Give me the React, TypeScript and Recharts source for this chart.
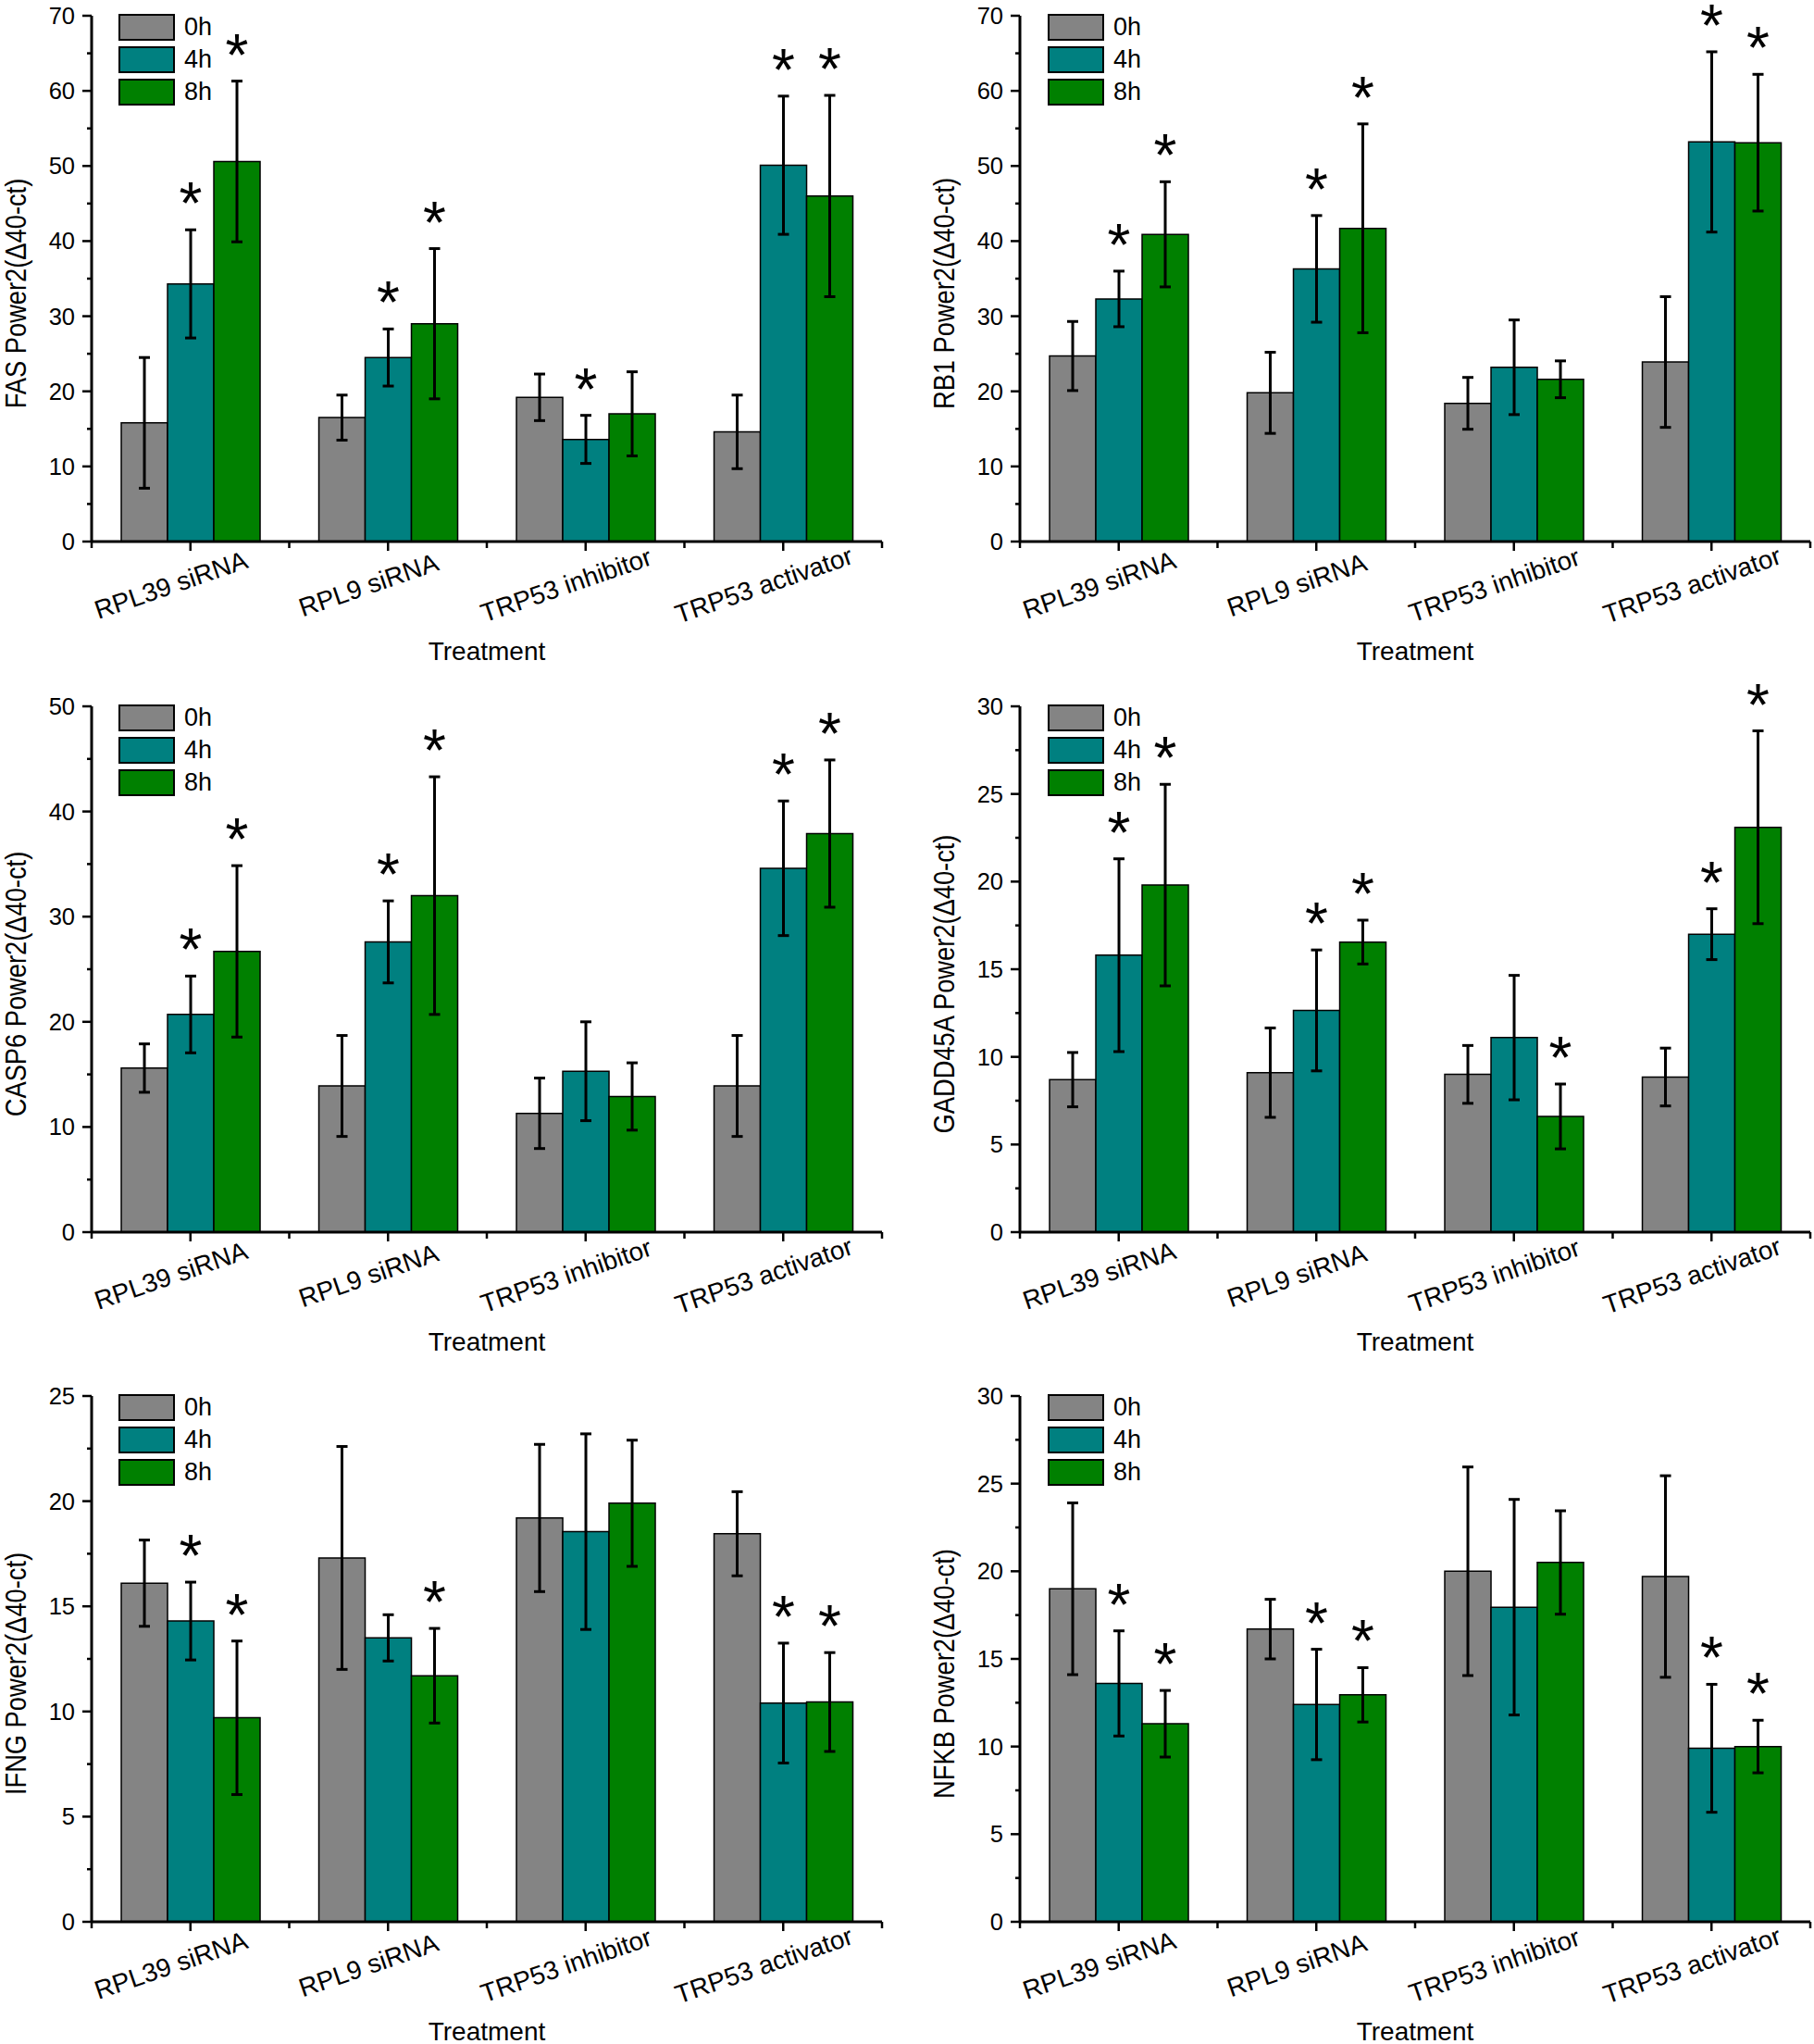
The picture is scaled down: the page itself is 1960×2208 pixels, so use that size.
import React from 'react';
import { BarChart, Bar, XAxis, YAxis, ErrorBar, Legend, LabelList } from 'recharts';

const FONT = '"Liberation Sans", Arial, Helvetica, sans-serif';

const CATEGORIES = ['RPL39 siRNA', 'RPL9 siRNA', 'TRP53 inhibitor', 'TRP53 activator'];
const SERIES = ['0h', '4h', '8h'];
const COLORS = ['#848484', '#008080', '#008000'];

// values per category: [0h, 4h, 8h]
const FAS_MEAN = [[15.8, 34.3, 50.6], [16.5, 24.5, 29.0], [19.2, 13.6, 17.0], [14.6, 50.1, 46.0]];
const FAS_ERR = [[8.7, 7.2, 10.7], [3.0, 3.8, 10.0], [3.1, 3.2, 5.6], [4.9, 9.2, 13.4]];
const FAS_SIG = [[0, 1, 1], [0, 1, 1], [0, 1, 0], [0, 1, 1]];
const FAS_TICKS = [0, 10, 20, 30, 40, 50, 60, 70];

const RB1_MEAN = [[24.7, 32.3, 40.9], [19.8, 36.3, 41.7], [18.4, 23.2, 21.6], [23.9, 53.2, 53.1]];
const RB1_ERR = [[4.6, 3.7, 7.0], [5.4, 7.1, 13.9], [3.45, 6.3, 2.45], [8.7, 12.0, 9.1]];
const RB1_SIG = [[0, 1, 1], [0, 1, 1], [0, 0, 0], [0, 1, 1]];
const RB1_TICKS = [0, 10, 20, 30, 40, 50, 60, 70];

const CASP6_MEAN = [[15.6, 20.7, 26.7], [13.9, 27.6, 32.0], [11.3, 15.3, 12.9], [13.9, 34.6, 37.9]];
const CASP6_ERR = [[2.3, 3.65, 8.15], [4.8, 3.9, 11.3], [3.35, 4.7, 3.2], [4.8, 6.4, 7.0]];
const CASP6_SIG = [[0, 1, 1], [0, 1, 1], [0, 0, 0], [0, 1, 1]];
const CASP6_TICKS = [0, 10, 20, 30, 40, 50];

const GADD45A_MEAN = [[8.7, 15.8, 19.8], [9.1, 12.65, 16.55], [9.0, 11.1, 6.6], [8.85, 17.0, 23.1]];
const GADD45A_ERR = [[1.55, 5.5, 5.75], [2.55, 3.45, 1.25], [1.65, 3.55, 1.85], [1.65, 1.45, 5.5]];
const GADD45A_SIG = [[0, 1, 1], [0, 1, 1], [0, 0, 1], [0, 1, 1]];
const GADD45A_TICKS = [0, 5, 10, 15, 20, 25, 30];

const IFNG_MEAN = [[16.1, 14.3, 9.7], [17.3, 13.5, 11.7], [19.2, 18.55, 19.9], [18.45, 10.4, 10.45]];
const IFNG_ERR = [[2.05, 1.85, 3.65], [5.3, 1.1, 2.25], [3.5, 4.65, 3.0], [2.0, 2.85, 2.35]];
const IFNG_SIG = [[0, 1, 1], [0, 0, 1], [0, 0, 0], [0, 1, 1]];
const IFNG_TICKS = [0, 5, 10, 15, 20, 25];

const NFKB_MEAN = [[19.0, 13.6, 11.3], [16.7, 12.4, 12.95], [20.0, 17.95, 20.5], [19.7, 9.9, 10.0]];
const NFKB_ERR = [[4.9, 3.0, 1.9], [1.7, 3.15, 1.55], [5.95, 6.15, 2.95], [5.75, 3.65, 1.5]];
const NFKB_SIG = [[0, 1, 1], [0, 1, 1], [0, 0, 0], [0, 1, 1]];
const NFKB_TICKS = [0, 5, 10, 15, 20, 25, 30];

const PLOT_W = 854;
const BAND = PLOT_W / CATEGORIES.length;

type PanelDef = {
  label: string;
  mean: number[][];
  err: number[][];
  sig: number[][];
  ticks: number[];
  left: number;
  top: number;
  axisW: number;
  mRight: number;
  legendLeft: number;
};

const PANELS: PanelDef[] = [
  { label: 'FAS Power2(\u039440-ct)', mean: FAS_MEAN, err: FAS_ERR, sig: FAS_SIG, ticks: FAS_TICKS, left: 0, top: 0, axisW: 99, mRight: 27, legendLeft: 128 },
  { label: 'RB1 Power2(\u039440-ct)', mean: RB1_MEAN, err: RB1_ERR, sig: RB1_SIG, ticks: RB1_TICKS, left: 980, top: 0, axisW: 122, mRight: 4, legendLeft: 152 },
  { label: 'CASP6 Power2(\u039440-ct)', mean: CASP6_MEAN, err: CASP6_ERR, sig: CASP6_SIG, ticks: CASP6_TICKS, left: 0, top: 746, axisW: 99, mRight: 27, legendLeft: 128 },
  { label: 'GADD45A Power2(\u039440-ct)', mean: GADD45A_MEAN, err: GADD45A_ERR, sig: GADD45A_SIG, ticks: GADD45A_TICKS, left: 980, top: 746, axisW: 122, mRight: 4, legendLeft: 152 },
  { label: 'IFNG Power2(\u039440-ct)', mean: IFNG_MEAN, err: IFNG_ERR, sig: IFNG_SIG, ticks: IFNG_TICKS, left: 0, top: 1491, axisW: 99, mRight: 27, legendLeft: 128 },
  { label: 'NFKB Power2(\u039440-ct)', mean: NFKB_MEAN, err: NFKB_ERR, sig: NFKB_SIG, ticks: NFKB_TICKS, left: 980, top: 1491, axisW: 122, mRight: 4, legendLeft: 152 },
];

const YTick = (props: any) => {
  const { x, y, payload, majors } = props;
  const isMajor = majors.includes(payload.value);
  return (
    <g>
      <line x1={x - (isMajor ? 10 : 5)} x2={x} y1={y} y2={y} stroke="#000" strokeWidth={2.5} />
      {isMajor && (
        <text x={x - 18} y={y} textAnchor="end" dominantBaseline="central" fontSize={25.5} fontFamily={FONT} fill="#000">
          {payload.value}
        </text>
      )}
    </g>
  );
};

const XTick = (props: any) => {
  const { x, y, payload, index } = props;
  const last = index === CATEGORIES.length - 1;
  const cx = x - 21;
  const cy = y + 47;
  return (
    <g>
      <line x1={x} x2={x} y1={y} y2={y + 10} stroke="#000" strokeWidth={2.5} />
      <line x1={x - BAND / 2} x2={x - BAND / 2} y1={y} y2={y + 7} stroke="#000" strokeWidth={2.5} />
      {last && <line x1={x + BAND / 2} x2={x + BAND / 2} y1={y} y2={y + 7} stroke="#000" strokeWidth={2.5} />}
      <text x={cx} y={cy} textAnchor="middle" dominantBaseline="central" transform={`rotate(-19, ${cx}, ${cy})`} fontSize={28} fontFamily={FONT} fill="#000">
        {payload.value}
      </text>
    </g>
  );
};

const XLabel = (props: any) => {
  const vb = props.viewBox || {};
  return (
    <text x={vb.x + vb.width / 2} y={vb.y + 128} textAnchor="middle" fontSize={28} fontFamily={FONT} fill="#000">
      Treatment
    </text>
  );
};

const YLabel = (props: any) => {
  const vb = props.viewBox || {};
  const cx = vb.x + vb.width - 71;
  const cy = vb.y + vb.height / 2 + 16;
  return (
    <text
      x={0}
      y={0}
      transform={`translate(${cx}, ${cy}) rotate(-90) scale(0.88, 1)`}
      textAnchor="middle"
      fontSize={31}
      fontFamily={FONT}
      fill="#000"
    >
      {props.text}
    </text>
  );
};

const LegendContent = (props: any) => {
  const payload = props.payload || [];
  return (
    <div style={{ display: 'flex', flexDirection: 'column', gap: 6 }}>
      {payload.map((p: any) => (
        <div key={p.value} style={{ display: 'flex', alignItems: 'center', height: 29 }}>
          <div style={{ width: 61, height: 29, boxSizing: 'border-box', background: p.color, border: '2px solid #000' }} />
          <span style={{ marginLeft: 10, fontSize: 27, fontFamily: FONT, color: '#000', lineHeight: '29px' }}>{p.value}</span>
        </div>
      ))}
    </div>
  );
};

const makeStar = (panel: PanelDef, s: number) => (props: any) => {
  const vb = props.viewBox || {};
  const x = props.x ?? vb.x;
  const y = props.y ?? vb.y;
  const width = props.width ?? vb.width;
  const height = props.height ?? vb.height;
  const index = props.index;
  if (index == null || !panel.sig[index] || !panel.sig[index][s]) return null;
  const val = panel.mean[index][s];
  const e = panel.err[index][s];
  const pxPerUnit = height / val;
  const topY = y - e * pxPerUnit;
  return (
    <text x={x + width / 2} y={topY - 6} textAnchor="middle" fontSize={64} fontFamily={FONT} fill="#000">
      *
    </text>
  );
};

const Panel = ({ panel }: { panel: PanelDef }) => {
  const rows = CATEGORIES.map((c, i) => ({
    cat: c,
    v0: panel.mean[i][0],
    v1: panel.mean[i][1],
    v2: panel.mean[i][2],
    e0: panel.err[i][0],
    e1: panel.err[i][1],
    e2: panel.err[i][2],
  }));
  const majors = panel.ticks;
  const step = majors[1] - majors[0];
  const allTicks: number[] = [];
  majors.forEach((t, i) => {
    allTicks.push(t);
    if (i < majors.length - 1) allTicks.push(t + step / 2);
  });
  const max = majors[majors.length - 1];
  return (
    <div style={{ position: 'absolute', left: panel.left, top: panel.top, width: 980, height: 740 }}>
      <BarChart
        width={980}
        height={740}
        data={rows}
        margin={{ top: 17, right: panel.mRight, left: 0, bottom: 0 }}
        barCategoryGap="15%"
        barGap={0}
      >
        <XAxis
          dataKey="cat"
          type="category"
          interval={0}
          height={155}
          tickSize={0}
          tickMargin={0}
          tickLine={false}
          axisLine={{ stroke: '#000', strokeWidth: 3 }}
          tick={<XTick />}
          label={<XLabel />}
        />
        <YAxis
          type="number"
          domain={[0, max]}
          allowDataOverflow
          ticks={allTicks}
          interval={0}
          width={panel.axisW}
          tickSize={0}
          tickMargin={0}
          tickLine={false}
          axisLine={{ stroke: '#000', strokeWidth: 3 }}
          tick={<YTick majors={majors} />}
          label={<YLabel text={panel.label} />}
        />
        <Legend
          layout="vertical"
          align="center"
          verticalAlign="middle"
          wrapperStyle={{ left: panel.legendLeft, top: 15, width: 'auto', height: 'auto' }}
          content={<LegendContent />}
        />
        {SERIES.map((s, si) => (
          <Bar
            key={s}
            dataKey={`v${si}`}
            name={s}
            fill={COLORS[si]}
            stroke="#000"
            strokeWidth={1.5}
            isAnimationActive={false}
          >
            <ErrorBar dataKey={`e${si}`} width={6} strokeWidth={3} stroke="#000" direction="y" />
            <LabelList dataKey={`v${si}`} content={makeStar(panel, si)} />
          </Bar>
        ))}
      </BarChart>
    </div>
  );
};

export default function App() {
  return (
    <div style={{ position: 'absolute', left: 0, top: 0, width: 1960, height: 2208, overflow: 'hidden', background: '#fff' }}>
      <style>{'.recharts-surface{overflow:visible}'}</style>
      {PANELS.map((p) => (
        <Panel key={p.label} panel={p} />
      ))}
    </div>
  );
}
